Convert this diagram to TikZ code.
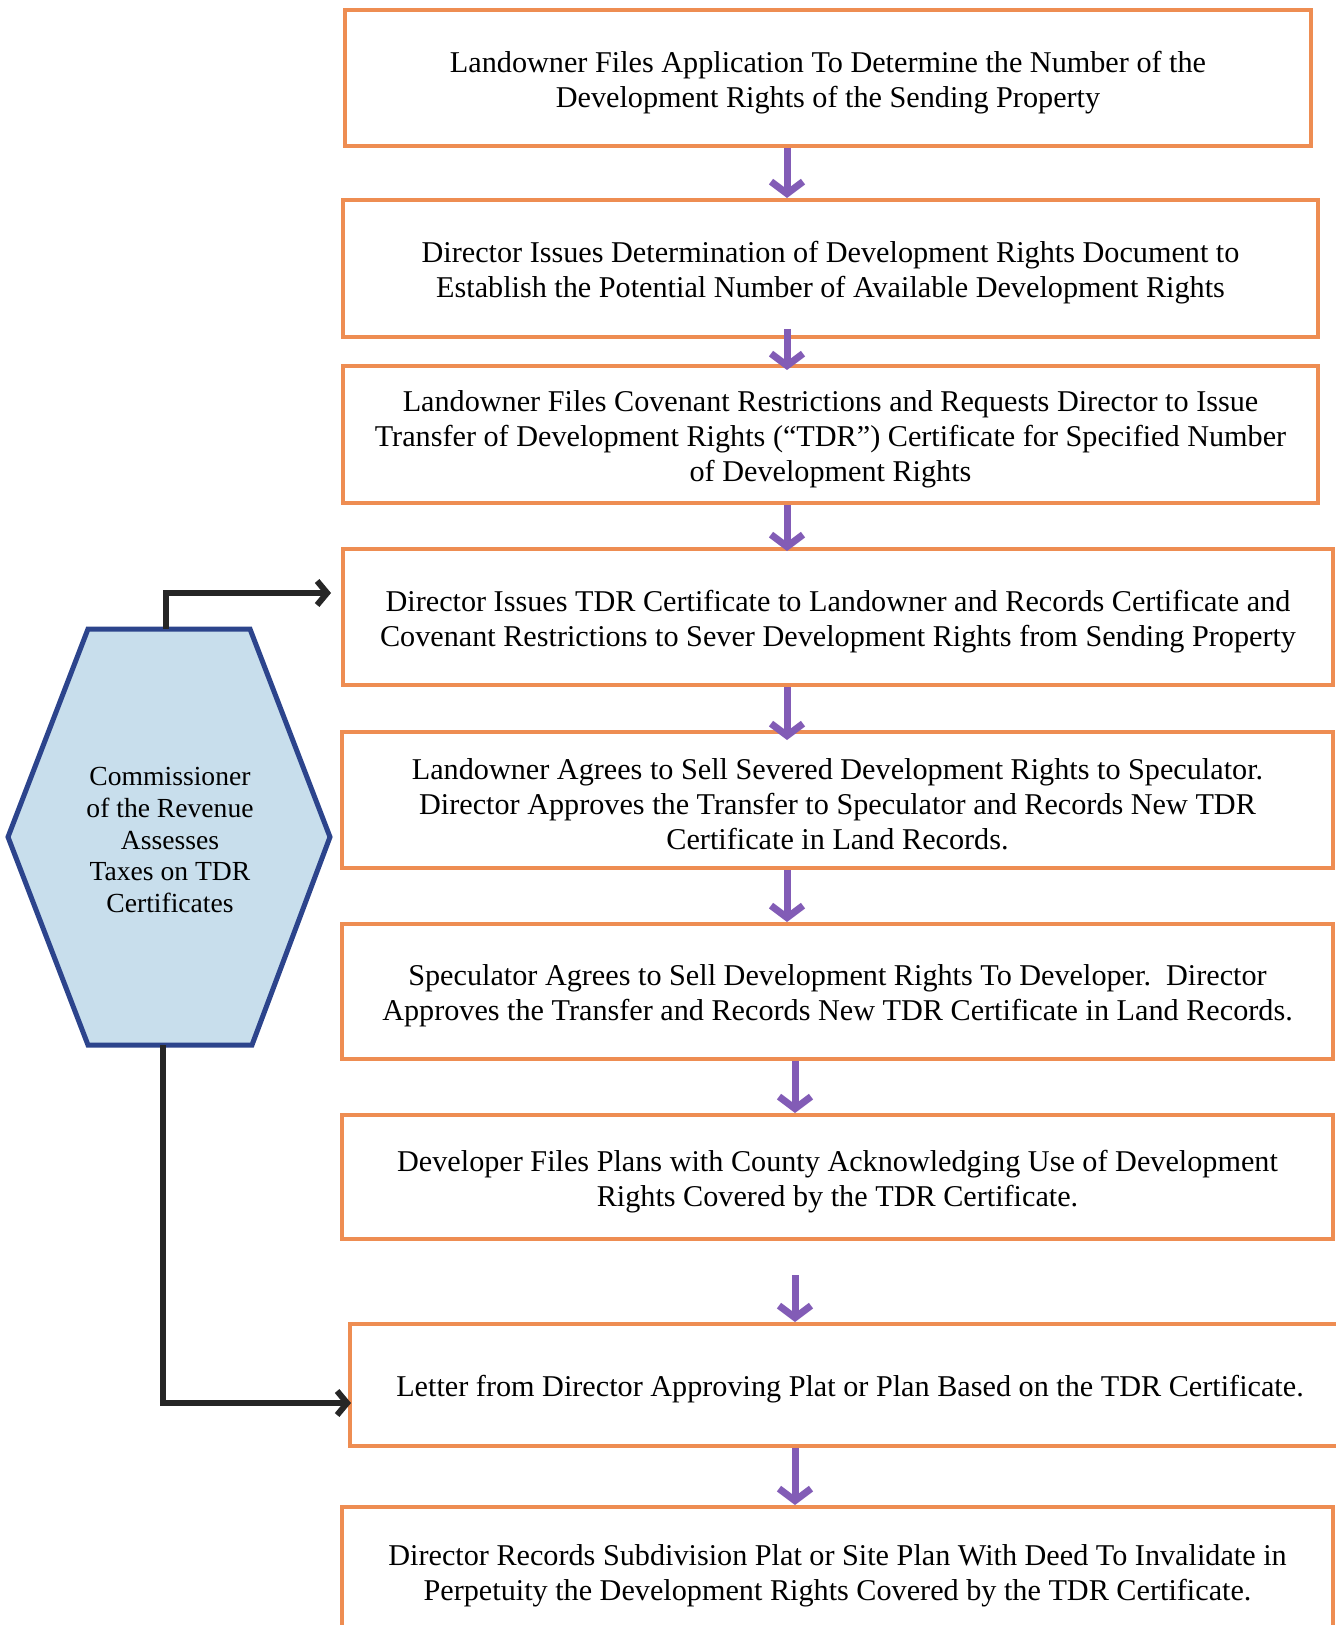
\documentclass[tikz,border=0pt]{standalone}
\usepackage{fontspec}
\setmainfont{LiberationSerif-Regular.ttf}
\usetikzlibrary{arrows.meta}

\definecolor{boxorange}{RGB}{238,141,82}
\definecolor{flowpurple}{RGB}{130,92,182}
\definecolor{hexblue}{RGB}{44,68,140}
\definecolor{hexfill}{RGB}{200,222,236}
\newcommand{\topgap}{\rule{0pt}{15pt}}

\begin{document}
\begin{tikzpicture}[
  x=0.5pt, y=-0.5pt,
  every node/.style={font=\fontsize{15.1}{17.6}\selectfont, align=center, inner sep=0pt},
  stepbox/.style={draw=boxorange, line width=2pt, fill=white},
  flow/.style={draw=flowpurple, line width=3.5pt, -{Straight Barb[length=6pt,width=16pt]}},
  tax/.style={draw=black!85, line width=3pt, -{Straight Barb[length=5pt,width=12pt]}},
  hexagon/.style={draw=hexblue, line width=2.5pt, fill=hexfill, line join=miter}
]
\useasboundingbox (0,0) rectangle (1336,1625);

\node[stepbox, minimum width=483pt, minimum height=68pt] (b1) at (828,78)
  {\topgap Landowner Files Application To Determine the Number of the\\
   Development Rights of the Sending Property};
\node[stepbox, minimum width=487.5pt, minimum height=68.5pt] (b2) at (830.5,268.5)
  {\topgap Director Issues Determination of Development Rights Document to\\
   Establish the Potential Number of Available Development Rights};
\node[stepbox, minimum width=487.5pt, minimum height=68.5pt] (b3) at (830.5,434.5)
  {\topgap Landowner Files Covenant Restrictions and Requests Director to Issue\\
   Transfer of Development Rights (``TDR'') Certificate for Specified Number\\
   of Development Rights};
\node[stepbox, minimum width=495pt, minimum height=68pt] (b4) at (838,617)
  {\topgap Director Issues TDR Certificate to Landowner and Records Certificate and\\
   Covenant Restrictions to Sever Development Rights from Sending Property};
\node[stepbox, minimum width=495.5pt, minimum height=68pt] (b5) at (837.5,800)
  {\topgap Landowner Agrees to Sell Severed Development Rights to Speculator.\\
   Director Approves the Transfer to Speculator and Records New TDR\\
   Certificate in Land Records.};
\node[stepbox, minimum width=495.5pt, minimum height=67.5pt] (b6) at (837.5,991.5)
  {\topgap Speculator Agrees to Sell Development Rights To Developer.\ \ Director\\
   Approves the Transfer and Records New TDR Certificate in Land Records.};
\node[stepbox, minimum width=495.5pt, minimum height=62pt] (b7) at (837.5,1177)
  {\topgap Developer Files Plans with County Acknowledging Use of Development\\
   Rights Covered by the TDR Certificate.};
\node[stepbox, minimum width=500pt, minimum height=61pt] (b8) at (850,1385)
  {\topgap Letter from Director Approving Plat or Plan Based on the TDR Certificate.};
\node[stepbox, minimum width=495.5pt, minimum height=64pt] (b9) at (837.5,1571)
  {\topgap Director Records Subdivision Plat or Site Plan With Deed To Invalidate in\\
   Perpetuity the Development Rights Covered by the TDR Certificate.};

% commissioner hexagon
\draw[hexagon] (88,629) -- (250,629) -- (330,837) -- (252,1045) -- (88,1045) -- (8,837) -- cycle;
\node[font=\fontsize{13.8}{15.8}\selectfont] (comm) at (170,840)
  {Commissioner\\ of the Revenue\\ Assesses\\ Taxes on TDR\\ Certificates};

\coordinate (hextop) at (166,629);
\coordinate (hexbot) at (163,1045);
\coordinate (topin) at (331,593);
\coordinate (botin) at (351,1403);
\draw[tax] (hextop) |- (topin);
\draw[tax] (hexbot) |- (botin);

% purple flow arrows
\coordinate (colA) at (787,0);
\coordinate (colB) at (795,0);
\coordinate (gap7) at (795,1275);
\draw[flow] (b1.south -| colA) -- (b2.north -| colA);
\draw[flow] ([yshift=5pt]b2.south -| colA) -- ([yshift=-3pt]b3.north -| colA);
\draw[flow] (b3.south -| colA) -- ([yshift=-2pt]b4.north -| colA);
\draw[flow] (b4.south -| colA) -- ([yshift=-5pt]b5.north -| colA);
\draw[flow] (b5.south -| colA) -- (b6.north -| colA);
\draw[flow] (b6.south -| colB) -- (b7.north -| colB);
\draw[flow] (gap7) -- (b8.north -| gap7);
\draw[flow] (b8.south -| colB) -- (b9.north -| colB);
\end{tikzpicture}
\end{document}
